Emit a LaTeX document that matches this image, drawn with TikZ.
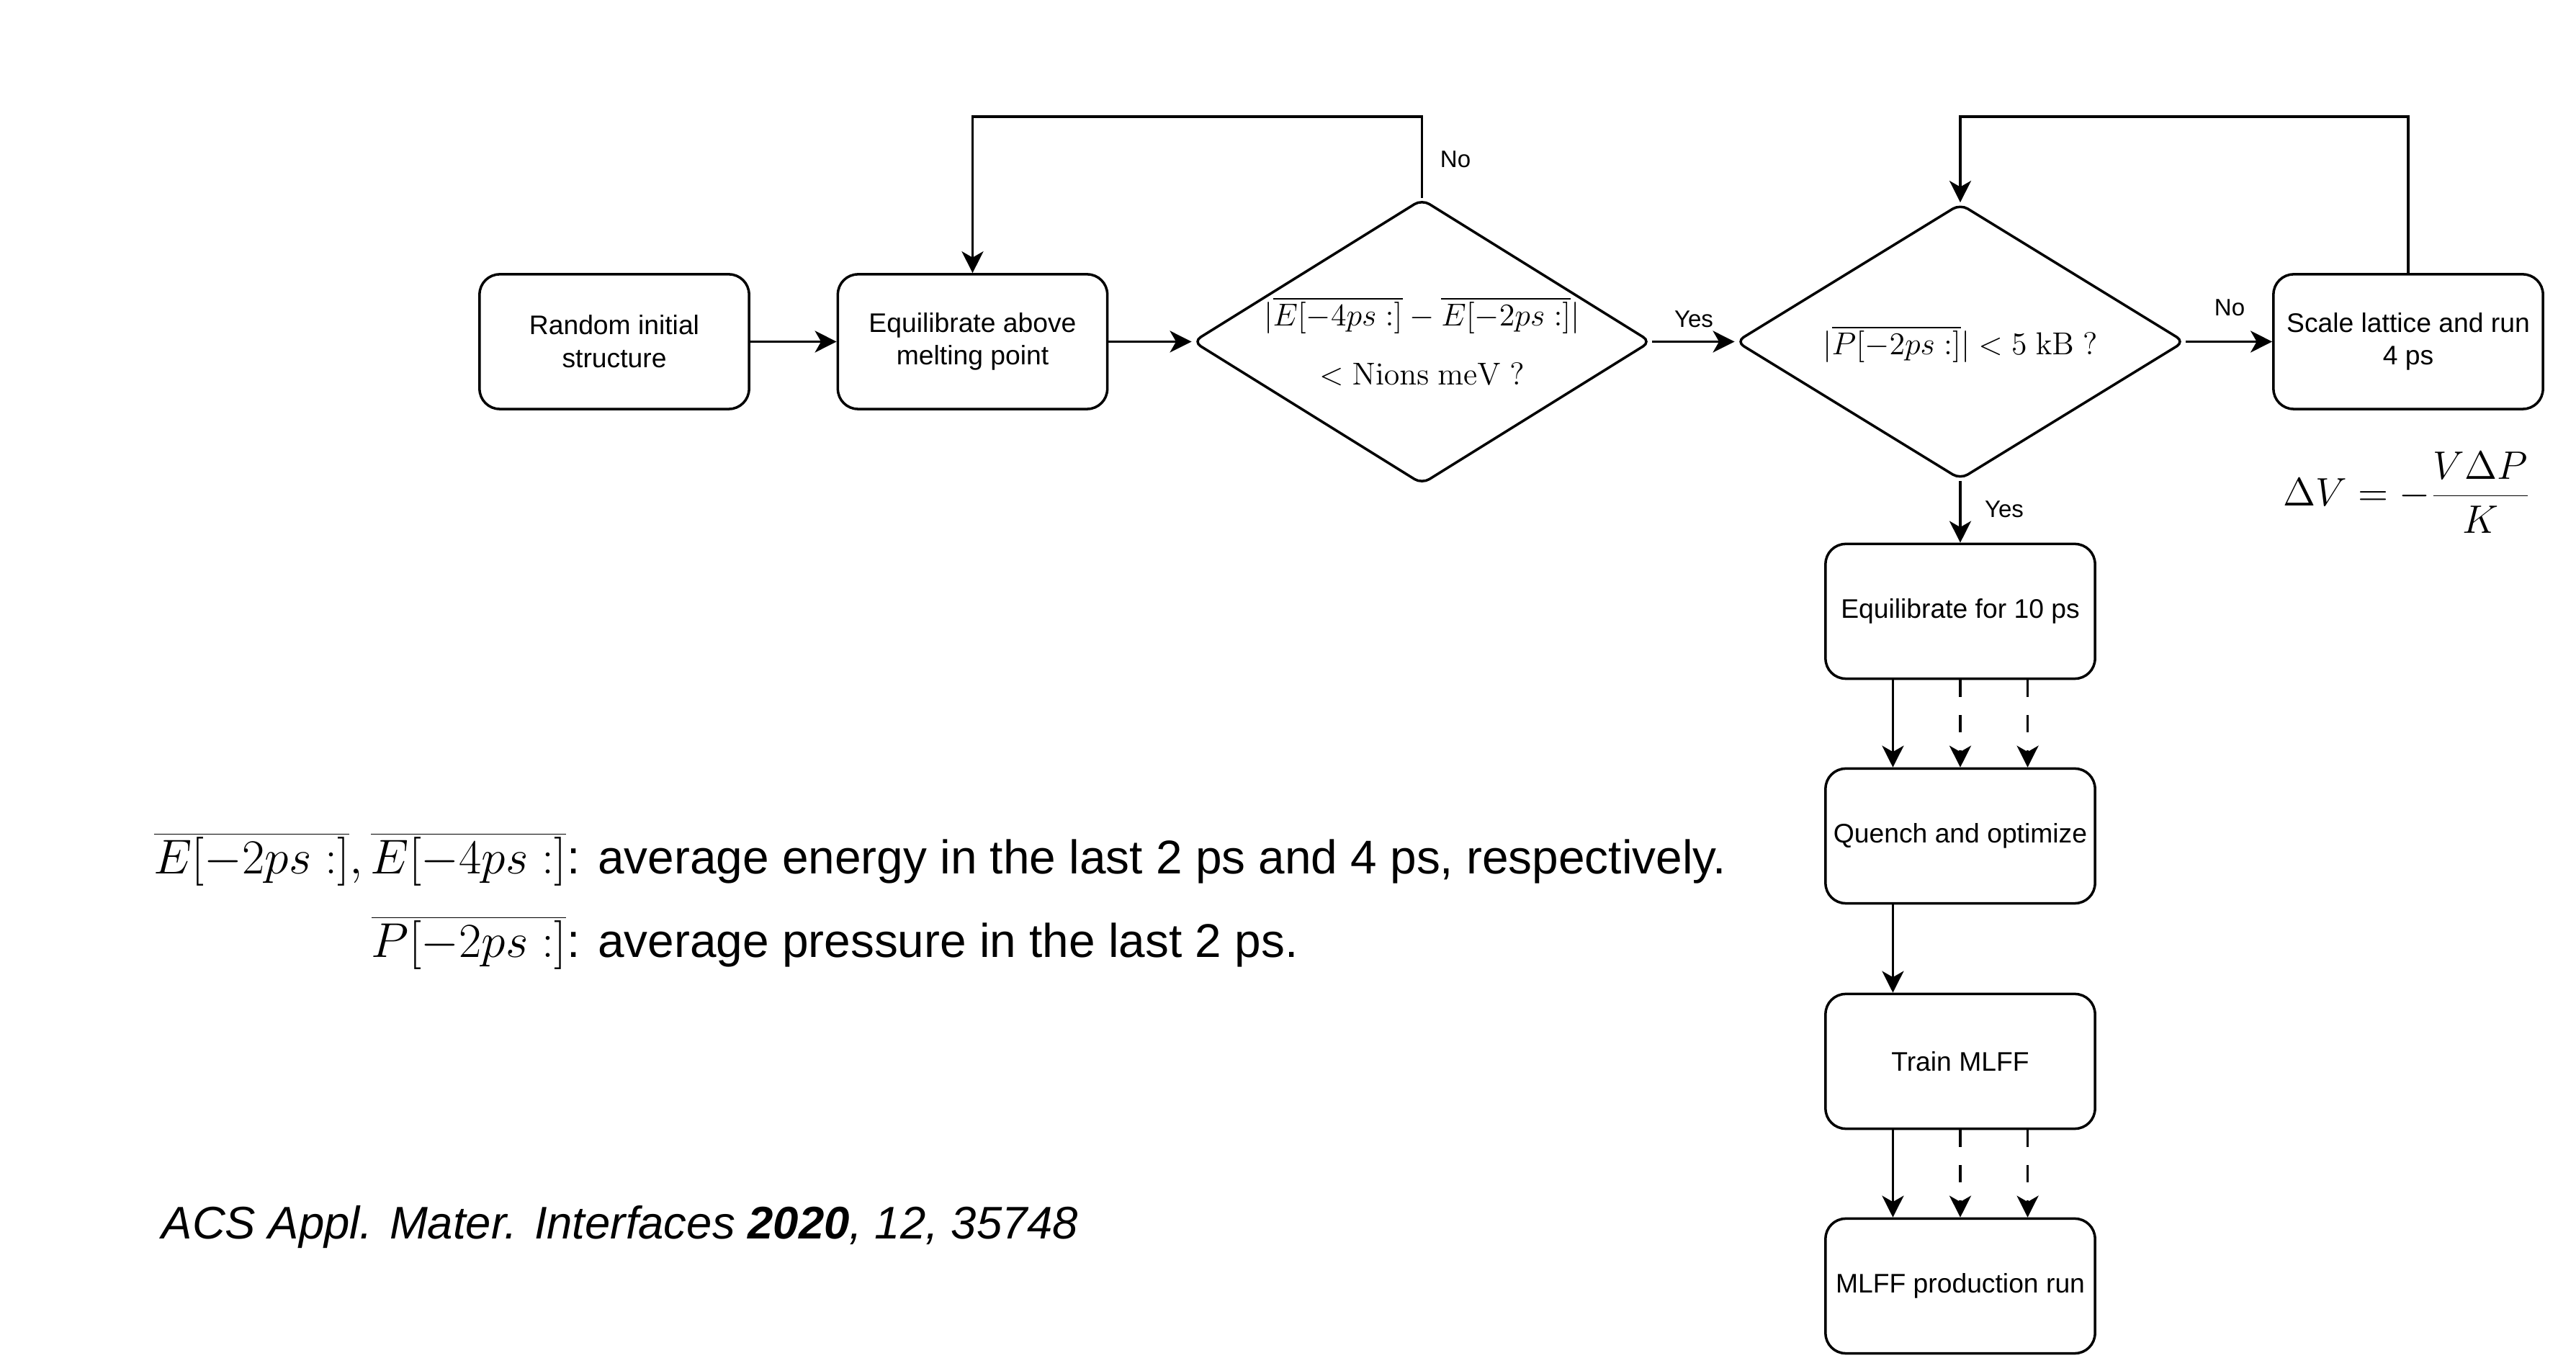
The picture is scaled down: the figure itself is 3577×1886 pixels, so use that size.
\RequirePackage{fix-cm}
\documentclass[tikz,border=0pt]{standalone}
\usepackage[no-math]{fontspec}
\setmainfont{Liberation Sans}
\usetikzlibrary{arrows.meta,shapes.geometric}
\newcommand\boxfont{\fontsize{10.6}{13}\selectfont}
\newcommand\lblfont{\fontsize{9.4}{11}\selectfont}
\newcommand\diafont{\fontsize{12.5}{15}\selectfont}
\newcommand\legfont{\fontsize{18.7}{22}\selectfont}
\newcommand\legmath{\fontsize{19.3}{22}\selectfont}
\tikzset{
  box/.style={draw, line width=1pt, rounded corners=0.28cm, minimum width=3.74cm,
    minimum height=1.87cm, align=center, font=\boxfont, inner sep=0pt},
  dia/.style={draw, diamond, line width=1pt, rounded corners=0.12cm, inner sep=0pt},
  arr/.style={-{Stealth[length=0.3cm,width=0.3cm,inset=0.085cm]}, line width=1pt},
  darr/.style={arr, dash pattern=on 0.24cm off 0.25cm},
  lbl/.style={font=\lblfont, inner sep=0pt},
  mtxt/.style={font=\diafont, inner sep=0pt, anchor=base},
}
\begin{document}
\begin{tikzpicture}[x=0.01cm, y=-0.01cm]
\fill[white] (0,0) rectangle (3577,1886);
\useasboundingbox (0,0) rectangle (3577,1886);

% main row
\node[box] (b1) at (853,474.5) {Random initial\\structure};
\node[box] (b2) at (1350.5,474.5) {Equilibrate above\\melting point};
\node[dia, minimum width=6.36cm, minimum height=3.96cm] (d1) at (1974.5,474.5) {};
\node[dia, minimum width=6.23cm, minimum height=3.83cm] (d2) at (2722,474.5) {};
\node[box] (sc) at (3344,474.5) {Scale lattice and run\\4 ps};

% diamond texts
\node[mtxt] (d1a) at (1974.5,453) {$|\overline{E[-4ps:]}-\overline{E[-2ps:]}|$};
\node[mtxt] (d1b) at (1974.5,535) {$<\mathrm{Nions}\ \mathrm{meV}\ ?$};
\node[mtxt] (d2a) at (2722,493) {$|\overline{P[-2ps:]}|<5\ \mathrm{kB}\ ?$};

% column
\node[box] (eq) at (2722,849) {Equilibrate for 10 ps};
\node[box] (qu) at (2722,1161) {Quench and optimize};
\node[box] (tr) at (2722,1474) {Train MLFF};
\node[box] (pr) at (2722,1786) {MLFF production run};

% connectors main row
\draw[arr] (b1.east) -- (b2.west);
\draw[arr] (b2.east) -- (d1.west);
\draw[arr] (d1.east) -- (d2.west);
\draw[arr] (d2.east) -- (sc.west);
\draw[arr] (d2.south) -- (eq.north);

% loops
\coordinate (t1) at (1974.5,162);
\coordinate (t2) at (3344,162);
\draw[arr] (d1.north) -- (t1) -| (b2.north);
\draw[arr] (sc.north) -- (t2) -| (d2.north);

% labels
\node[lbl] (lno1) at (2021,221) {No};
\node[lbl] (lyes1) at (2352,443) {Yes};
\node[lbl] (lno2) at (3096,427) {No};
\node[lbl] (lyes2) at (2783,707) {Yes};

% column connectors
\draw[arr] ([xshift=-0.935cm]eq.south) -- ([xshift=-0.935cm]qu.north);
\draw[darr] (eq.south) -- (qu.north);
\draw[darr] ([xshift=0.935cm]eq.south) -- ([xshift=0.935cm]qu.north);
\draw[arr] ([xshift=-0.935cm]qu.south) -- ([xshift=-0.935cm]tr.north);
\draw[arr] ([xshift=-0.935cm]tr.south) -- ([xshift=-0.935cm]pr.north);
\draw[darr] (tr.south) -- (pr.north);
\draw[darr] ([xshift=0.935cm]tr.south) -- ([xshift=0.935cm]pr.north);

% formula
\node[font=\fontsize{15.7}{19}\selectfont, inner sep=0pt] (fdv) at (3342,684)
  {$\displaystyle\Delta V=-\frac{V\Delta P}{K}$};

% legend
\node[font=\legmath, inner sep=0pt, anchor=base east] (l1m) at (787,1214)
  {$\overline{E[-2ps:]},\overline{E[-4ps:]}$};
\node[font=\legfont, inner sep=0pt, anchor=base west] (l1t) at (l1m.base east)
  {: average energy in the last 2 ps and 4 ps, respectively.};
\node[font=\legmath, inner sep=0pt, anchor=base east] (l2m) at (787,1330)
  {$\overline{P[-2ps:]}$};
\node[font=\legfont, inner sep=0pt, anchor=base west] (l2t) at (l2m.base east)
  {: average pressure in the last 2 ps.};

% citation
\node[font=\fontsize{18.05}{22}\selectfont\itshape, inner sep=0pt, anchor=west] (cit) at (224,1704)
  {ACS Appl. Mater. Interfaces \textbf{2020}, 12, 35748};
\end{tikzpicture}
\end{document}
